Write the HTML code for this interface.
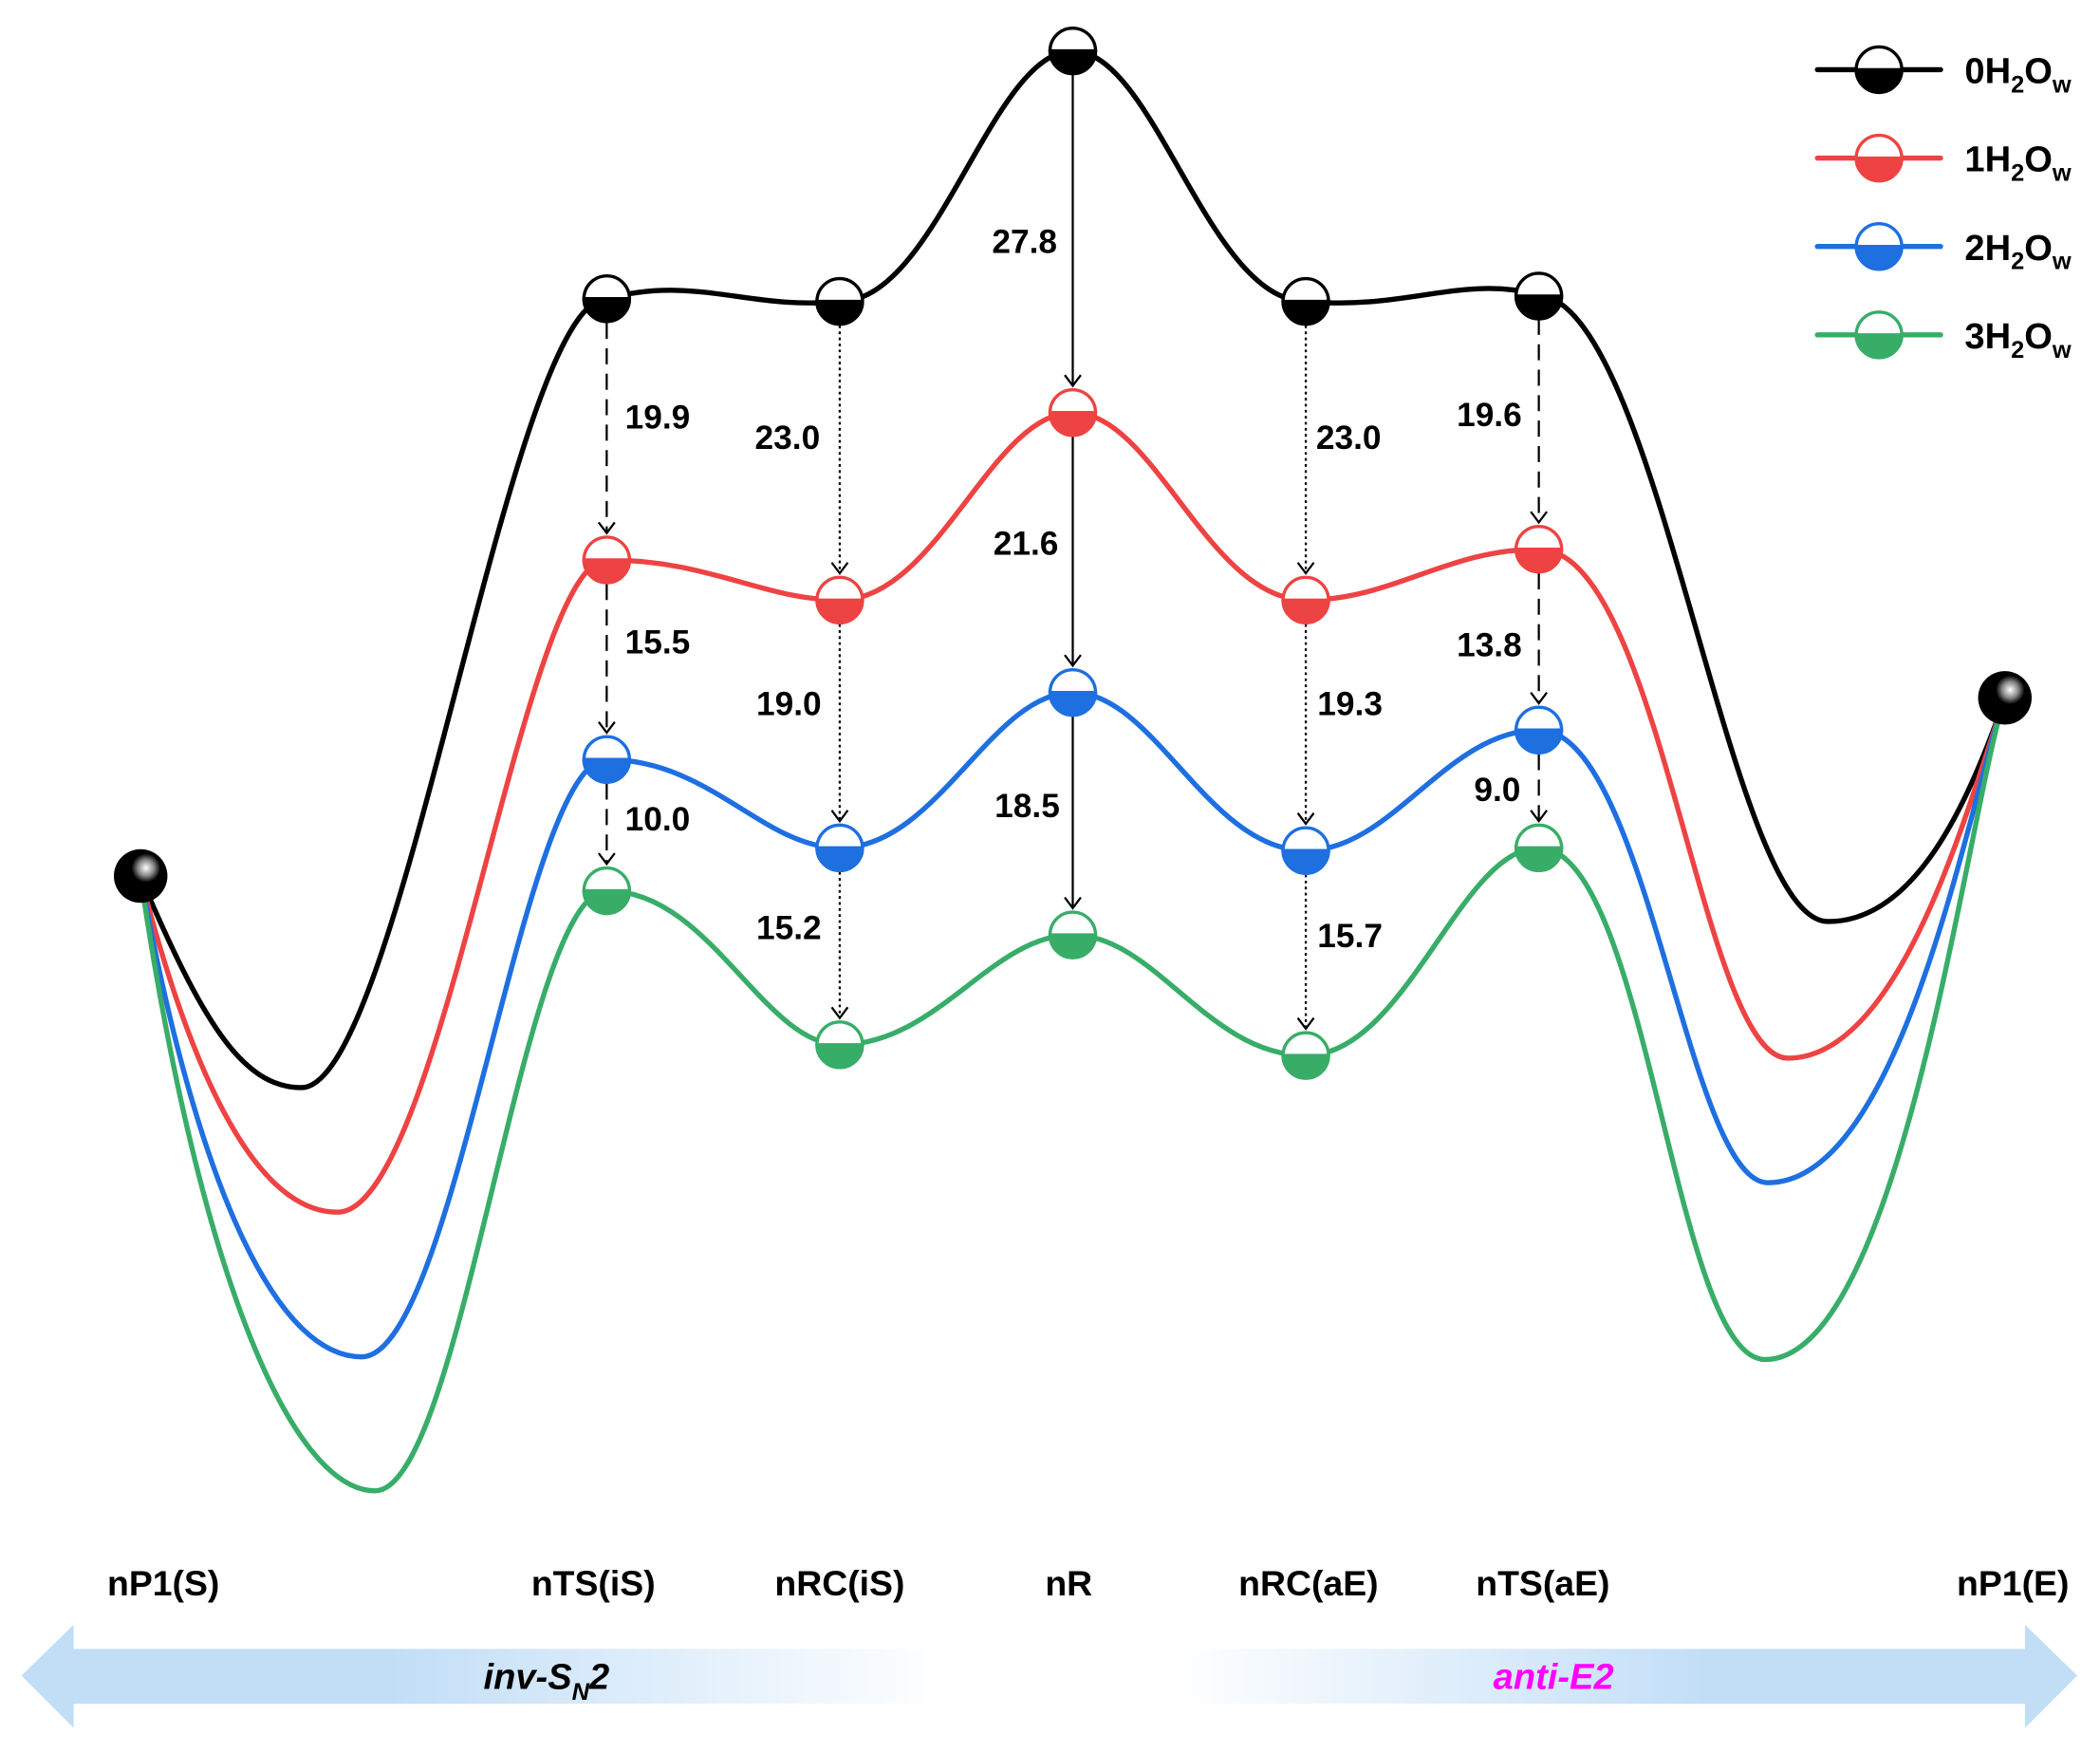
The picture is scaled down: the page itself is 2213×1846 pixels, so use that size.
<!DOCTYPE html>
<html><head><meta charset="utf-8"><style>
html,body{margin:0;padding:0;background:#fff;}
svg{display:block;}
text{font-family:"Liberation Sans",Arial,sans-serif;font-weight:bold;}
</style></head><body>
<svg width="2213" height="1846" viewBox="0 0 1568 1308" xmlns="http://www.w3.org/2000/svg">
<defs>
<linearGradient id="band" x1="0" x2="1" y1="0" y2="0">
<stop offset="0" stop-color="#c2def7"/>
<stop offset="0.18" stop-color="#c2def7"/>
<stop offset="0.45" stop-color="#ffffff"/>
<stop offset="0.56" stop-color="#ffffff"/>
<stop offset="0.82" stop-color="#c2def7"/>
<stop offset="1" stop-color="#c2def7"/>
</linearGradient>
<radialGradient id="sph" cx="0.6" cy="0.35" r="0.6">
<stop offset="0" stop-color="#ffffff"/>
<stop offset="0.25" stop-color="#888"/>
<stop offset="0.45" stop-color="#000"/>
<stop offset="1" stop-color="#000"/>
</radialGradient>
<marker id="ahv" markerWidth="14" markerHeight="14" refX="7" refY="12" markerUnits="userSpaceOnUse">
<path d="M1,4 L7,12 L13,4" fill="none" stroke="#000" stroke-width="1.6"/>
</marker>
</defs>

<path d="M16,1251 L55,1213 L55,1231 L1512,1231 L1512,1213 L1551,1251 L1512,1290 L1512,1272 L55,1272 L55,1290 Z" fill="url(#band)"/>
<text x="408" y="1261" font-size="27" font-style="italic" text-anchor="middle">inv-S<tspan font-size="18" dy="8">N</tspan><tspan dy="-8">2</tspan></text>
<text x="1160" y="1261" font-size="27" font-style="italic" text-anchor="middle" fill="#ff00ff">anti-E2</text>

<g font-size="26.5" text-anchor="middle">
<text x="122" y="1191">nP1(S)</text>
<text x="443" y="1191">nTS(iS)</text>
<text x="627" y="1191">nRC(iS)</text>
<text x="798" y="1191">nR</text>
<text x="977" y="1191">nRC(aE)</text>
<text x="1152" y="1191">nTS(aE)</text>
<text x="1503" y="1191">nP1(E)</text>
</g>

<g fill="none" stroke-width="3.8" stroke-linecap="round">
<path stroke="#000" d="M105,655 C150,760 180,812 225,812 C300,812 380,223 453,223 C520,205 560,232 627,225 C700,225 740,38 801,38 C862,38 902,225 975,225 C1050,232 1090,205 1149,220 C1240,230 1290,688 1365,688 C1430,688 1470,600 1497,521"/>
<path stroke="#ee4343" d="M105,655 C150,830 200,905 252,905 C330,905 390,418 453,418 C530,418 570,448 627,448 C700,448 740,308 801,308 C862,308 902,448 975,448 C1040,448 1080,410 1149,410 C1240,410 1270,790 1335,790 C1420,790 1470,600 1497,521"/>
<path stroke="#1e6fe0" d="M105,655 C150,900 210,1013 270,1013 C340,1013 390,567 453,567 C530,567 570,633 627,633 C700,633 740,517 801,517 C862,517 902,635 975,635 C1040,635 1080,545 1149,545 C1230,545 1260,883 1320,883 C1420,883 1470,600 1497,521"/>
<path stroke="#38ad68" d="M105,655 C150,960 220,1113 280,1113 C345,1113 390,665 453,665 C530,665 570,780 627,780 C700,780 740,698 801,698 C862,698 902,788 975,788 C1050,788 1090,633 1149,633 C1230,633 1250,1015 1318,1015 C1420,1015 1470,600 1497,521"/>
</g>

<g stroke="#000" stroke-width="1.6" fill="none">
<line x1="453" y1="241" x2="453" y2="398" stroke-dasharray="12,7" marker-end="url(#ahv)"/>
<line x1="453" y1="436" x2="453" y2="547" stroke-dasharray="12,7" marker-end="url(#ahv)"/>
<line x1="453" y1="585" x2="453" y2="645" stroke-dasharray="12,7" marker-end="url(#ahv)"/>
<line x1="1149" y1="238" x2="1149" y2="390" stroke-dasharray="12,7" marker-end="url(#ahv)"/>
<line x1="1149" y1="428" x2="1149" y2="525" stroke-dasharray="12,7" marker-end="url(#ahv)"/>
<line x1="1149" y1="563" x2="1149" y2="613" stroke-dasharray="12,7" marker-end="url(#ahv)"/>
<line x1="627" y1="243" x2="627" y2="428" stroke-dasharray="2,2.5" marker-end="url(#ahv)"/>
<line x1="627" y1="466" x2="627" y2="613" stroke-dasharray="2,2.5" marker-end="url(#ahv)"/>
<line x1="627" y1="651" x2="627" y2="760" stroke-dasharray="2,2.5" marker-end="url(#ahv)"/>
<line x1="975" y1="243" x2="975" y2="428" stroke-dasharray="2,2.5" marker-end="url(#ahv)"/>
<line x1="975" y1="466" x2="975" y2="615" stroke-dasharray="2,2.5" marker-end="url(#ahv)"/>
<line x1="975" y1="653" x2="975" y2="768" stroke-dasharray="2,2.5" marker-end="url(#ahv)"/>
<line x1="801" y1="56" x2="801" y2="288" marker-end="url(#ahv)"/>
<line x1="801" y1="326" x2="801" y2="497" marker-end="url(#ahv)"/>
<line x1="801" y1="535" x2="801" y2="678" marker-end="url(#ahv)"/>
</g>

<g font-size="25" text-anchor="middle">
<text x="491" y="320">19.9</text>
<text x="588" y="335">23.0</text>
<text x="765" y="189">27.8</text>
<text x="1007" y="335">23.0</text>
<text x="1112" y="318">19.6</text>
<text x="491" y="488">15.5</text>
<text x="766" y="414">21.6</text>
<text x="1112" y="490">13.8</text>
<text x="589" y="534">19.0</text>
<text x="1008" y="534">19.3</text>
<text x="491" y="620">10.0</text>
<text x="767" y="610">18.5</text>
<text x="1118" y="598">9.0</text>
<text x="589" y="701">15.2</text>
<text x="1008" y="707">15.7</text>
</g>

<g stroke-width="2.4">
<g stroke="#000">
<circle cx="453" cy="223" r="17" fill="#fff"/><path d="M436,223 A17,17 0 0 0 470,223 Z" fill="#000"/>
<circle cx="627" cy="225" r="17" fill="#fff"/><path d="M610,225 A17,17 0 0 0 644,225 Z" fill="#000"/>
<circle cx="801" cy="38" r="17" fill="#fff"/><path d="M784,38 A17,17 0 0 0 818,38 Z" fill="#000"/>
<circle cx="975" cy="225" r="17" fill="#fff"/><path d="M958,225 A17,17 0 0 0 992,225 Z" fill="#000"/>
<circle cx="1149" cy="221" r="17" fill="#fff"/><path d="M1132,221 A17,17 0 0 0 1166,221 Z" fill="#000"/>
</g>
<g stroke="#ee4343">
<circle cx="453" cy="418" r="17" fill="#fff"/><path d="M436,418 A17,17 0 0 0 470,418 Z" fill="#ee4343"/>
<circle cx="627" cy="448" r="17" fill="#fff"/><path d="M610,448 A17,17 0 0 0 644,448 Z" fill="#ee4343"/>
<circle cx="801" cy="308" r="17" fill="#fff"/><path d="M784,308 A17,17 0 0 0 818,308 Z" fill="#ee4343"/>
<circle cx="975" cy="448" r="17" fill="#fff"/><path d="M958,448 A17,17 0 0 0 992,448 Z" fill="#ee4343"/>
<circle cx="1149" cy="410" r="17" fill="#fff"/><path d="M1132,410 A17,17 0 0 0 1166,410 Z" fill="#ee4343"/>
</g>
<g stroke="#1e6fe0">
<circle cx="453" cy="567" r="17" fill="#fff"/><path d="M436,567 A17,17 0 0 0 470,567 Z" fill="#1e6fe0"/>
<circle cx="627" cy="633" r="17" fill="#fff"/><path d="M610,633 A17,17 0 0 0 644,633 Z" fill="#1e6fe0"/>
<circle cx="801" cy="517" r="17" fill="#fff"/><path d="M784,517 A17,17 0 0 0 818,517 Z" fill="#1e6fe0"/>
<circle cx="975" cy="635" r="17" fill="#fff"/><path d="M958,635 A17,17 0 0 0 992,635 Z" fill="#1e6fe0"/>
<circle cx="1149" cy="545" r="17" fill="#fff"/><path d="M1132,545 A17,17 0 0 0 1166,545 Z" fill="#1e6fe0"/>
</g>
<g stroke="#38ad68">
<circle cx="453" cy="665" r="17" fill="#fff"/><path d="M436,665 A17,17 0 0 0 470,665 Z" fill="#38ad68"/>
<circle cx="627" cy="780" r="17" fill="#fff"/><path d="M610,780 A17,17 0 0 0 644,780 Z" fill="#38ad68"/>
<circle cx="801" cy="698" r="17" fill="#fff"/><path d="M784,698 A17,17 0 0 0 818,698 Z" fill="#38ad68"/>
<circle cx="975" cy="788" r="17" fill="#fff"/><path d="M958,788 A17,17 0 0 0 992,788 Z" fill="#38ad68"/>
<circle cx="1149" cy="633" r="17" fill="#fff"/><path d="M1132,633 A17,17 0 0 0 1166,633 Z" fill="#38ad68"/>
</g>
</g>

<circle cx="105" cy="654" r="20" fill="url(#sph)"/>
<circle cx="1497" cy="521" r="20" fill="url(#sph)"/>

<g stroke-width="3.8" stroke-linecap="round">
<line x1="1357" y1="52" x2="1449" y2="52" stroke="#000"/>
<line x1="1357" y1="118" x2="1449" y2="118" stroke="#ee4343"/>
<line x1="1357" y1="184" x2="1449" y2="184" stroke="#1e6fe0"/>
<line x1="1357" y1="250" x2="1449" y2="250" stroke="#38ad68"/>
</g>
<g stroke-width="2.4">
<circle cx="1403" cy="52" r="17" fill="#fff" stroke="#000"/><path d="M1386,52 A17,17 0 0 0 1420,52 Z" fill="#000" stroke="#000"/>
<circle cx="1403" cy="118" r="17" fill="#fff" stroke="#ee4343"/><path d="M1386,118 A17,17 0 0 0 1420,118 Z" fill="#ee4343" stroke="#ee4343"/>
<circle cx="1403" cy="184" r="17" fill="#fff" stroke="#1e6fe0"/><path d="M1386,184 A17,17 0 0 0 1420,184 Z" fill="#1e6fe0" stroke="#1e6fe0"/>
<circle cx="1403" cy="250" r="17" fill="#fff" stroke="#38ad68"/><path d="M1386,250 A17,17 0 0 0 1420,250 Z" fill="#38ad68" stroke="#38ad68"/>
</g>
<g font-size="27">
<text x="1467" y="62">0H<tspan font-size="18" dy="7">2</tspan><tspan dy="-7">O</tspan><tspan font-size="18" dy="7">w</tspan></text>
<text x="1467" y="128">1H<tspan font-size="18" dy="7">2</tspan><tspan dy="-7">O</tspan><tspan font-size="18" dy="7">w</tspan></text>
<text x="1467" y="194">2H<tspan font-size="18" dy="7">2</tspan><tspan dy="-7">O</tspan><tspan font-size="18" dy="7">w</tspan></text>
<text x="1467" y="260">3H<tspan font-size="18" dy="7">2</tspan><tspan dy="-7">O</tspan><tspan font-size="18" dy="7">w</tspan></text>
</g>
</svg>
</body></html>
